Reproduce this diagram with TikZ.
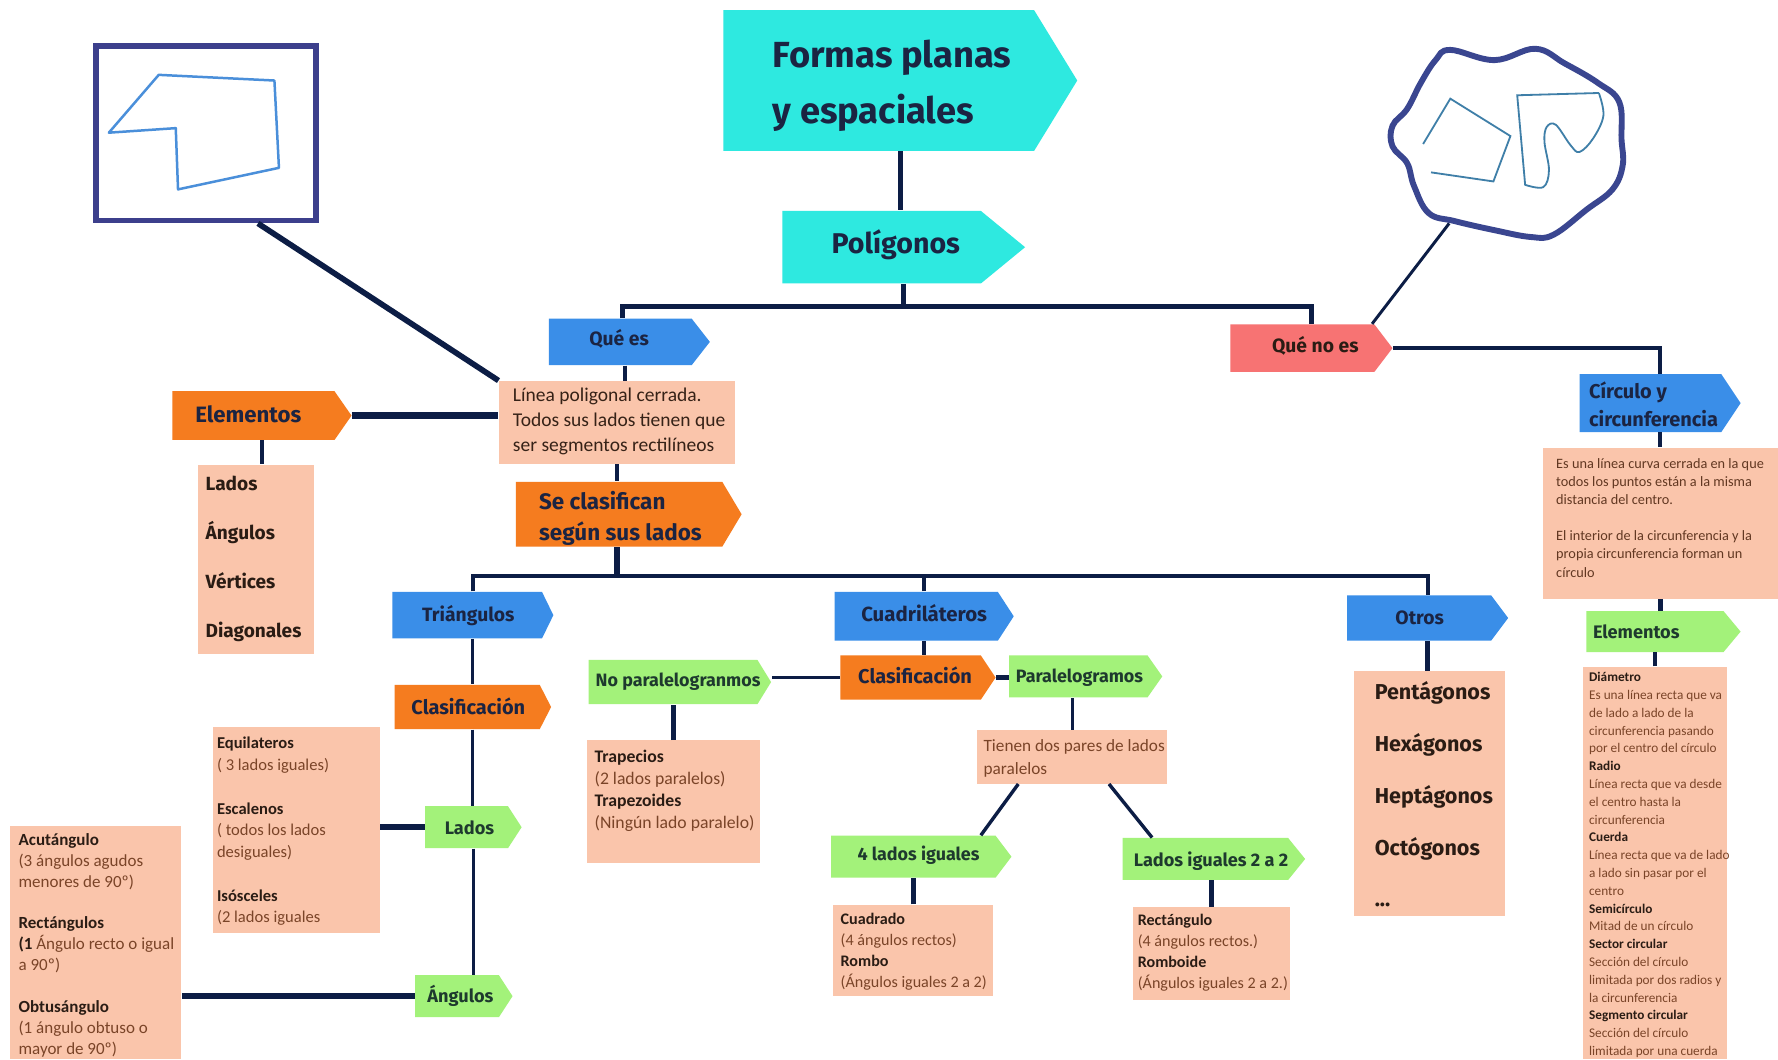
\documentclass[tikz,border=0pt]{standalone}
\usepackage{fontspec}
\setmainfont{Carlito}
\newfontfamily\hdrfont{Fira Sans}
\usetikzlibrary{fit,calc}
\definecolor{cyanT}{HTML}{2EE9E0}
\definecolor{blueT}{HTML}{3A8EE8}
\definecolor{orangeT}{HTML}{F57C1F}
\definecolor{greenT}{HTML}{A3F27A}
\definecolor{redT}{HTML}{F77373}
\definecolor{salmonT}{HTML}{FAC5AB}
\definecolor{navyL}{HTML}{0C1D45}
\definecolor{navyTx}{HTML}{1B2442}
\definecolor{greenTx}{HTML}{1E3A2E}
\definecolor{brownTx}{HTML}{7A4428}
\definecolor{darkTx}{HTML}{2A1C14}
\definecolor{frameC}{HTML}{3C3F8C}
\definecolor{polyC}{HTML}{4A8FDA}
\definecolor{blobC}{HTML}{3A4690}
\definecolor{shapeC}{HTML}{3F7FA8}
\newcommand\tagshape[7]{%
  \fill[#2] (#3,#4) -- (#5,#4) -- ({#5+#7},{(#4+#6)/2}) -- (#5,#6) -- (#3,#6) -- cycle;
  \node[fit={(#3,#4) ({#5+#7},#6)}, inner sep=0pt] (#1) {};}
\newcommand\boxshape[6]{%
  \node[fit={(#3,#4) (#5,#6)}, inner sep=0pt, fill=#2] (#1) {};}
\newcommand\fs{\rule{0pt}{0.75em}}
\newcommand\B[1]{\textbf{\textcolor{darkTx}{#1}}}
\newcommand\hfont[1]{\hdrfont\bfseries\fontsize{#1}{#1}\selectfont}
\newcommand\bfont[2]{\fontsize{#1}{#2}\selectfont}
\begin{document}
\begin{tikzpicture}[x=0.5pt,y=-0.5pt,
  conn/.style={draw=navyL, line width=#1}, conn/.default=2pt,
  hdr/.style={inner sep=0pt, anchor=mid, text=navyTx},
  ghdr/.style={inner sep=0pt, anchor=mid, text=greenTx},
  body/.style={inner sep=0pt, anchor=north west, align=left, text=brownTx},
  list/.style={inner sep=0pt, anchor=north west, align=left, text=darkTx}]
\fill[white] (0,0) rectangle (1568,934);
\useasboundingbox (0,0) rectangle (1568,934);

% ---------- picture box and blob ----------
\node[draw=frameC, line width=2.5pt, minimum width=97pt, minimum height=77pt,
      anchor=north west, inner sep=0pt] (pic) at (82,38) {};
\draw[polyC, line width=1.1pt, line join=round]
  (96,117) -- (140,66) -- (242,71) -- (246,148) -- (157,167) -- (155,113) -- cycle;
\draw[blobC, line width=2.6pt] plot[smooth cycle, tension=0.65] coordinates {
  (1279,44) (1318,53) (1354,43) (1380,56) (1409,73) (1428,90) (1430,123)
  (1431,146) (1422,167) (1399,185) (1370,207) (1350,209) (1318,203) (1283,195)
  (1260,188) (1247,164) (1241,144) (1228,129) (1228,111) (1241,96) (1253,73) (1266,53)};
\draw[shapeC, line width=0.8pt] (1255,127) -- (1279,87) -- (1332,120) -- (1317,160) -- (1262,152);
\draw[shapeC, line width=0.8pt] plot[smooth, tension=0.6] coordinates {
  (1410,82) (1414,102) (1405,122) (1393,134) (1385,128) (1372,110) (1364,112)
  (1362,125) (1366,150) (1361,165) (1345,163)} -- (1338,84) -- (1410,82);
\coordinate (blobpt) at (1278,197);

% ---------- tags ----------
\tagshape{title}{cyanT}{638}{9}{912}{133}{38}
\tagshape{poly}{cyanT}{690}{186}{865}{250}{39}
\tagshape{quees}{blueT}{484}{281}{610}{322}{16}
\tagshape{quenoes}{redT}{1085}{286}{1212}{328}{16}
\tagshape{elem}{orangeT}{152}{345}{295}{388}{15}
\tagshape{secl}{orangeT}{455}{425}{637}{482}{17}
\tagshape{tri}{blueT}{346}{522}{478}{563}{10}
\tagshape{clasA}{orangeT}{348}{604}{476}{643}{10}
\tagshape{lados}{greenT}{375}{711}{448}{748}{12}
\tagshape{angulos}{greenT}{366}{860}{440}{897}{12}
\tagshape{cuad}{blueT}{736}{522}{880}{565}{14}
\tagshape{clasB}{orangeT}{741}{578}{865}{617}{13}
\tagshape{nopar}{greenT}{519}{582}{668}{621}{12}
\tagshape{par}{greenT}{890}{578}{1012}{615}{13}
\tagshape{cuatro}{greenT}{733}{737}{878}{774}{14}
\tagshape{dosados}{greenT}{990}{739}{1136}{776}{15}
\tagshape{otros}{blueT}{1188}{525}{1315}{565}{15}
\tagshape{circ}{blueT}{1393}{330}{1518}{381}{17}
\tagshape{elemB}{greenT}{1399}{539}{1520}{575}{15}

% ---------- boxes ----------
\boxshape{linea}{salmonT}{440}{336}{648}{409}
\boxshape{elemlist}{salmonT}{175}{410}{277}{577}
\boxshape{equil}{salmonT}{188}{641}{335}{823}
\boxshape{acut}{salmonT}{9}{728}{160}{934}
\boxshape{trap}{salmonT}{518}{653}{670}{761}
\boxshape{tienen}{salmonT}{862}{644}{1029}{691}
\boxshape{cuadrado}{salmonT}{735}{798}{876}{878}
\boxshape{rect}{salmonT}{999}{800}{1138}{882}
\boxshape{otroslist}{salmonT}{1194}{592}{1327}{808}
\boxshape{circbox}{salmonT}{1361}{395}{1568}{528}
\boxshape{elemBbox}{salmonT}{1396}{588}{1523}{934}

% ---------- tag texts ----------
\node[hdr, anchor=north west, align=left, font=\hdrfont\bfseries\fontsize{16}{24.5}\selectfont]
  (title-t) at (681,35) {\fs Formas planas\\y espaciales};
\node[hdr, font=\hfont{12.6}] (poly-t) at (790,219) {Polígonos};
\node[hdr, font=\hfont{8.5}] (quees-t) at (546,300) {Qué es};
\node[hdr, font=\hfont{8.5}, text=darkTx] (quenoes-t) at (1160,306) {Qué no es};
\node[hdr, font=\hfont{9.8}] (elem-t) at (219,368) {Elementos};
\node[hdr, anchor=north west, align=left, font=\hdrfont\bfseries\fontsize{9.9}{13.5}\selectfont]
  (secl-t) at (475,433) {\fs Se clasifican\\según sus lados};
\node[hdr, font=\hfont{8.5}] (tri-t) at (413,543) {Triángulos};
\node[hdr, font=\hfont{8.8}] (clasA-t) at (413,625) {Clasificación};
\node[ghdr, font=\hfont{8}] (lados-t) at (414,731) {Lados};
\node[ghdr, font=\hfont{8}] (angulos-t) at (406,879) {Ángulos};
\node[hdr, font=\hfont{9}] (cuad-t) at (815,543) {Cuadriláteros};
\node[hdr, font=\hfont{8.8}] (clasB-t) at (807,598) {Clasificación};
\node[ghdr, font=\hfont{7.9}] (nopar-t) at (598,601) {No paralelogranmos};
\node[ghdr, font=\hfont{7.9}] (par-t) at (952,597) {Paralelogramos};
\node[ghdr, font=\hfont{7.9}] (cuatro-t) at (810,754) {4 lados iguales};
\node[ghdr, font=\hfont{8}] (dosados-t) at (1068,759) {Lados iguales 2 a 2};
\node[hdr, font=\hfont{8.5}] (otros-t) at (1252,546) {Otros};
\node[hdr, anchor=north west, align=left, font=\hdrfont\bfseries\fontsize{8.8}{12.5}\selectfont]
  (circ-t) at (1401,336) {\fs Círculo y\\circunferencia};
\node[ghdr, font=\hfont{8}] (elemB-t) at (1443,558) {Elementos};

% ---------- box texts ----------
\node[body, text=darkTx!85!brownTx, font=\bfont{8.6}{11}] (linea-t) at (452,341)
  {\fs Línea poligonal cerrada.\\Todos sus lados tienen que\\ser segmentos rectilíneos};
\node[list, font=\hdrfont\bfseries\fontsize{8.4}{21.7}\selectfont] (elemlist-t) at (181,419)
  {\fs Lados\\Ángulos\\Vértices\\Diagonales};
\node[body, font=\bfont{7.3}{9.6}] (equil-t) at (191,649)
  {\fs\B{Equilateros}\\( 3 lados iguales)\\[9.6pt]\B{Escalenos}\\( todos los lados\\desiguales)\\[9.6pt]\B{Isósceles}\\(2 lados iguales};
\node[body, font=\bfont{7.5}{9.2}] (acut-t) at (16,734)
  {\fs\B{Acutángulo}\\(3 ángulos agudos\\menores de 90º)\\[9.2pt]\B{Rectángulos}\\\B{(1} Ángulo recto o igual\\a 90º)\\[9.2pt]\B{Obtusángulo}\\(1 ángulo obtuso o\\mayor de 90º)};
\node[body, font=\bfont{7.8}{9.8}] (trap-t) at (524,660)
  {\fs\B{Trapecios}\\(2 lados paralelos)\\\B{Trapezoides}\\(Ningún lado paralelo)};
\node[body, font=\bfont{7.6}{10}] (tienen-t) at (867,651)
  {\fs Tienen dos pares de lados\\paralelos};
\node[body, font=\bfont{7.1}{9.3}] (cuadrado-t) at (741,804)
  {\fs\B{Cuadrado}\\(4 ángulos rectos)\\\B{Rombo}\\(Ángulos iguales 2 a 2)};
\node[body, font=\bfont{7.1}{9.3}] (rect-t) at (1003,805)
  {\fs\B{Rectángulo}\\(4 ángulos rectos.)\\\B{Romboide}\\(Ángulos iguales 2 a 2.)};
\node[list, font=\hdrfont\bfseries\fontsize{9.5}{22.8}\selectfont] (otroslist-t) at (1212,601)
  {\fs Pentágonos\\Hexágonos\\Heptágonos\\Octógonos\\...};
\node[body, text=brownTx!70!darkTx, font=\bfont{6.3}{8}] (circbox-t) at (1372,403)
  {\fs Es una línea curva cerrada en la que\\todos los puntos están a la misma\\distancia del centro.\\[8pt]El interior de la circunferencia y la\\propia circunferencia forman un\\círculo};
\node[body, font=\bfont{5.85}{7.85}] (elemBbox-t) at (1401,592)
  {\fs\B{Diámetro}\\Es una línea recta que va\\de lado a lado de la\\circunferencia pasando\\por el centro del círculo\\\B{Radio}\\Línea recta que va desde\\el centro hasta la\\circunferencia\\\B{Cuerda}\\Línea recta que va de lado\\a lado sin pasar por el\\centro\\\B{Semicírculo}\\Mitad de un círculo\\\B{Sector circular}\\Sección del círculo\\limitada por dos radios y\\la circunferencia\\\B{Segmento circular}\\Sección del círculo\\limitada por una cuerda};

% ---------- connectors ----------
\coordinate (busA) at (795,270);
\coordinate (busB) at (546,508);
\draw[conn=2pt] (title.south) -- (title.south |- poly.north);
\draw[conn=2.2pt] (poly.south) -- (poly.south |- busA);
\draw[conn=2.2pt] ([xshift=-3pt]quees.north) -- ([xshift=-3pt]quees.north |- busA)
  -- (quenoes.north |- busA) -- (quenoes.north);
\draw[conn=1.5pt] ([xshift=-2pt]quees.south) -- ([xshift=-2pt]quees.south |- linea.north);
\draw[conn=2.5pt] ([xshift=23pt]pic.south) -- (linea.north west);
\draw[conn=3.2pt] (elem.east) -- (elem.east -| linea.west);
\draw[conn=2pt] (elem.south) -- (elem.south |- elemlist.north);
\draw[conn=2pt] (linea.south) -- (linea.south |- secl.north);
\draw[conn=2.4pt] (linea.south |- secl.south) -- (linea.south |- busB);
\draw[conn=1.8pt] (tri.north) -- (tri.north |- busB) -- (otros.north |- busB) -- (otros.north);
\draw[conn=1.8pt] (cuad.north) -- (cuad.north |- busB);
\draw[conn=1.3pt] (tri.south) -- (tri.south |- clasA.north);
\draw[conn=1.3pt] (clasA.south) -- (clasA.south |- lados.north);
\draw[conn=1.3pt] (lados.south) -- (lados.south |- angulos.north);
\draw[conn=2.5pt] (lados.west) -- (lados.west -| equil.east);
\draw[conn=2.5pt] (angulos.west) -- (angulos.west -| acut.east);
\draw[conn=1.5pt] (cuad.south) -- (cuad.south |- clasB.north);
\draw[conn=1.5pt] (clasB.west) -- (clasB.west -| nopar.east);
\draw[conn=2.5pt] (clasB.east) -- (clasB.east -| par.west);
\draw[conn=2pt] (trap.north) -- (trap.north |- nopar.south);
\draw[conn=1.3pt] (tienen.north) -- (tienen.north |- par.south);
\draw[conn=1.5pt] ([xshift=-23.75pt]tienen.south) -- ([xshift=26.25pt]cuatro.north);
\draw[conn=1.5pt] ([xshift=16.25pt]tienen.south) -- ([xshift=-27.25pt]dosados.north);
\draw[conn=2pt] (cuadrado.north) -- (cuadrado.north |- cuatro.south);
\draw[conn=2pt] (rect.north) -- (rect.north |- dosados.south);
\draw[conn=2pt] (otros.south) -- (otros.south |- otroslist.north);
\draw[conn=1.5pt] (quenoes.east) -| (circ.north);
\draw[conn=1.3pt] (blobpt) -- ([xshift=26.75pt]quenoes.north);
\draw[conn=2pt] (circ.south) -- (circ.south |- circbox.north);
\draw[conn=2pt] (circbox.south) -- (circbox.south |- elemB.north);
\draw[conn=2pt] (elemBbox.north) -- (elemBbox.north |- elemB.south);
\end{tikzpicture}
\end{document}
